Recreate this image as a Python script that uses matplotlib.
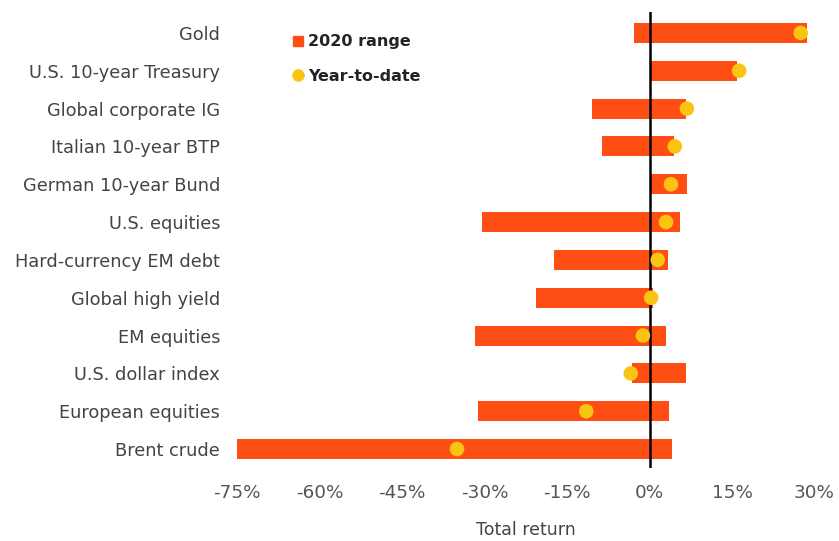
import numpy as np
import matplotlib
matplotlib.use('Agg')
import matplotlib.pyplot as plt
from matplotlib.lines import Line2D

assets = ['Gold', 'U.S. 10-year Treasury', 'Global corporate IG', 'Italian 10-year BTP',
          'German 10-year Bund', 'U.S. equities', 'Hard-currency EM debt',
          'Global high yield', 'EM equities', 'U.S. dollar index',
          'European equities', 'Brent crude']
range_low = [-2.8, 0.0, -10.5, -8.6, 0.0, -30.5, -17.4, -20.6, -31.7, -3.2, -31.2, -75.0]
range_high = [28.6, 15.9, 6.6, 4.5, 6.8, 5.5, 3.4, 0.6, 3.0, 6.6, 3.5, 4.1]
ytd = [27.5, 16.3, 6.8, 4.6, 3.9, 3.0, 1.5, 0.3, -1.2, -3.4, -11.5, -35.0]
xticks = [-75, -60, -45, -30, -15, 0, 15, 30]

bar_color = '#FF4E14'
dot_color = '#F9C412'
text_color = '#444444'

fig = plt.figure(figsize=(8.39, 5.41), dpi=100)
ax = fig.add_axes([0.2694, 0.135, 0.7145, 0.843])

y = np.arange(len(assets))
lo = np.array(range_low)
hi = np.array(range_high)
ax.barh(y, hi - lo, left=lo, height=0.53, color=bar_color, zorder=2)
ax.axvline(0, color='black', lw=1.8, zorder=3)
ax.scatter(ytd, y, s=110, color=dot_color, zorder=4, edgecolors='none')

ax.set_yticks(y)
ax.set_yticklabels(assets, fontsize=12.8, color=text_color)
ax.set_xticks(xticks)
ax.set_xticklabels(['{}%'.format(t) for t in xticks], fontsize=13.2, color='#555555')
ax.set_xlim(-77, 32)
ax.set_ylim(len(assets) - 0.5, -0.556)
ax.tick_params(axis='y', length=0, pad=4.3)
ax.tick_params(axis='x', length=0, pad=11.5)
for s in ax.spines.values():
    s.set_visible(False)
ax.set_xlabel('Total return', fontsize=12.5, color=text_color, labelpad=14)

handles = [Line2D([], [], marker='s', ls='none', color=bar_color, markersize=7),
           Line2D([], [], marker='o', ls='none', color=dot_color, markersize=8)]
leg = ax.legend(handles, ['2020 range', 'Year-to-date'], loc='upper left',
                bbox_to_anchor=(0.083, 0.982), frameon=False, handletextpad=0.1,
                handlelength=1.0, labelspacing=1.2,
                prop={'weight': 'bold', 'size': 11.5})
for t in leg.get_texts():
    t.set_color('#222222')

fig.savefig('out.png', dpi=100)
